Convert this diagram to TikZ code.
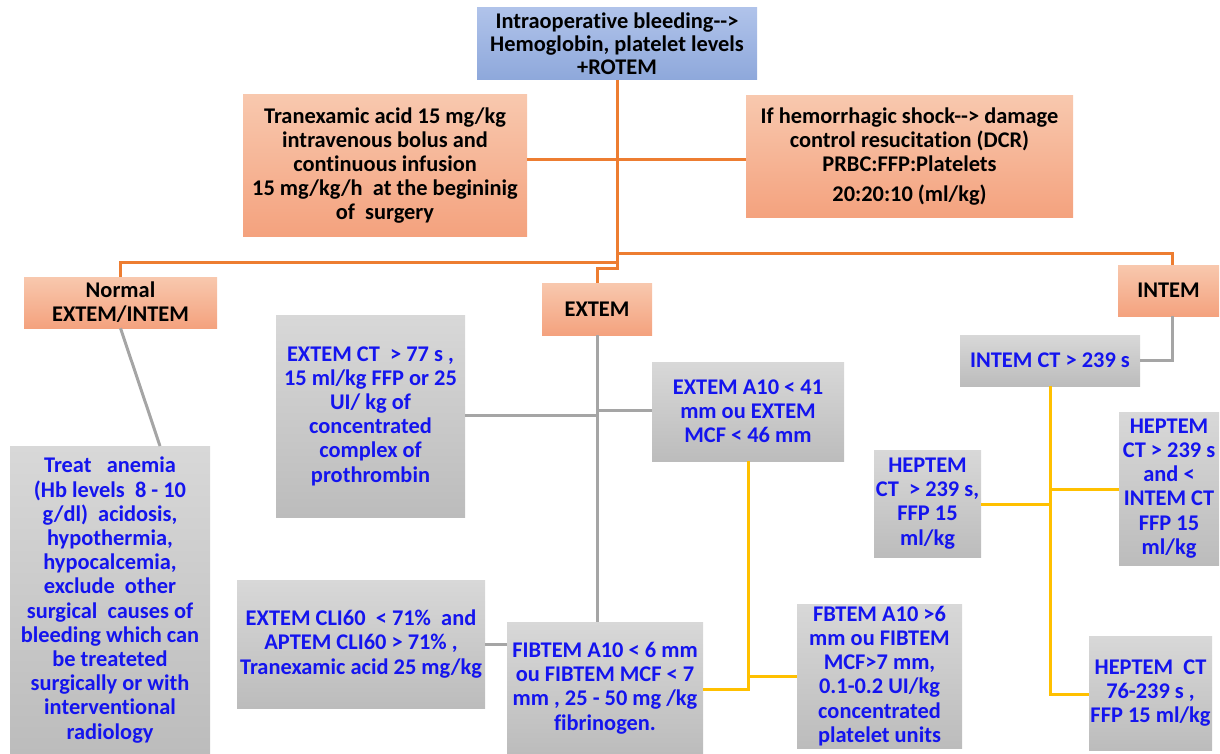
\documentclass[tikz,border=0pt]{standalone}
\usepackage{fontspec}
\setmainfont{Carlito}[Ligatures={NoCommon}]
\definecolor{ora}{HTML}{ED7D31}
\definecolor{gline}{HTML}{A5A5A5}
\definecolor{yel}{HTML}{FFC000}
\definecolor{btxt}{HTML}{1414EE}
\definecolor{bluetop}{HTML}{B0C3EA}
\definecolor{bluebot}{HTML}{8EA8DB}
\definecolor{saltop}{HTML}{F8C8AE}
\definecolor{salbot}{HTML}{F4A27E}
\definecolor{graytop}{HTML}{D8D8D8}
\definecolor{graybot}{HTML}{BCBCBC}
\tikzset{
  base/.style={draw=none, inner sep=0pt, align=center, font=\fontsize{22.4}{24.2}\selectfont\bfseries},
  bluebox/.style={base, top color=bluetop, bottom color=bluebot, text=black},
  salbox/.style={base, top color=saltop, bottom color=salbot, text=black},
  graybox/.style={base, top color=graytop, bottom color=graybot, text=btxt},
  oline/.style={draw=ora, line width=3pt},
  gline/.style={draw=gline, line width=3pt},
  yline/.style={draw=yel, line width=3pt},
}
\begin{document}
\begin{tikzpicture}[x=1pt,y=-1pt]
\path[use as bounding box] (0,0) rectangle (1220,754);
% nodes
\node[bluebox, minimum width=280, minimum height=72, font=\fontsize{22.4}{23}\selectfont\bfseries] (top) at (617,44)
  {Intraoperative bleeding-{}-{}>\\Hemoglobin, platelet levels\\+ROTEM};
\node[salbox, minimum width=284, minimum height=141] (tran) at (385,165.5)
  {Tranexamic acid 15 mg/kg\\intravenous bolus and\\continuous infusion\\15 mg/kg/h\ \ at the begininig\\of\ \ surgery};
\node[salbox, minimum width=327, minimum height=121] (hem) at (909.5,156.5)
  {If hemorrhagic shock-{}-{}> damage\\control resucitation (DCR)\\PRBC:FFP:Platelets\\[6pt]20:20:10 (ml/kg)};
\node[salbox, minimum width=193, minimum height=51] (normal) at (120.5,302.5)
  {Normal\\EXTEM/INTEM};
\node[salbox, minimum width=110, minimum height=52] (extem) at (597,309) {EXTEM};
\node[salbox, minimum width=101, minimum height=51] (intem) at (1168.5,290.5) {INTEM};
\node[graybox, minimum width=189, minimum height=202] (extemct) at (370.5,416)
  {EXTEM CT\ \ > 77 s ,\\15 ml/kg FFP or 25\\UI/ kg of\\concentrated\\complex of\\prothrombin};
\node[graybox, minimum width=192, minimum height=99] (a10) at (748,411.5)
  {EXTEM A10 < 41\\mm ou EXTEM\\MCF < 46 mm};
\node[graybox, minimum width=180, minimum height=51] (intemct) at (1050,360.5)
  {INTEM CT > 239 s};
\node[graybox, minimum width=107, minimum height=107] (hepl) at (927.5,503.5)
  {HEPTEM\\CT\ \ > 239 s,\\FFP 15\\ml/kg};
\node[graybox, minimum width=100, minimum height=153] (hepr) at (1169,488.5)
  {HEPTEM\\CT > 239 s\\and <\\INTEM CT\\FFP 15\\ml/kg};
\node[graybox, minimum width=200, minimum height=308] (treat) at (110,600)
  {Treat\ \ \ anemia\\(Hb levels\ \ 8 - 10\\g/dl)\ \ acidosis,\\hypothermia,\\hypocalcemia,\\exclude\ \ other\\surgical\ \ causes of\\bleeding which can\\be treateted\\surgically or with\\interventional\\radiology};
\node[graybox, minimum width=248, minimum height=128] (cli) at (361,644)
  {EXTEM CLI60\ \ < 71\%\ \ and\\APTEM CLI60 > 71\% ,\\Tranexamic acid 25 mg/kg};
\node[graybox, minimum width=196, minimum height=132] (fib) at (605,688)
  {FIBTEM A10 < 6 mm\\ou FIBTEM MCF < 7\\mm , 25 - 50 mg /kg\\fibrinogen.};
\node[graybox, minimum width=165, minimum height=144] (fbtem) at (879.5,676)
  {FBTEM A10 >6\\mm ou FIBTEM\\MCF>7 mm,\\0.1-0.2 UI/kg\\concentrated\\platelet units};
\node[graybox, minimum width=123, minimum height=114] (hep76) at (1150.5,693)
  {HEPTEM\ \ CT\\76-239 s ,\\FFP 15 ml/kg};
% junction coordinates
\coordinate (ja) at (617,160);
\coordinate (jb) at (617,253);
\coordinate (jc) at (617,262);
\coordinate (jd) at (617,268);
\coordinate (ib) at (1172,253);
\coordinate (ga) at (597,415);
\coordinate (gb) at (597,410);
\coordinate (tn) at (160,446);
\coordinate (ya) at (748,689);
\coordinate (yb) at (748,676);
\coordinate (yc) at (1050,694);
\coordinate (yd) at (1050,504);
\coordinate (ye) at (1050,489);
% orange connectors
\draw[oline] (top.south) -- (jd) -- (jd -| extem.north) -- (extem.north);
\draw[oline] (tran.east |- ja) -- (hem.west |- ja);
\draw[oline] (jb) -- (ib) -- (ib |- intem.north);
\draw[oline] (jc) -- (jc -| normal.north) -- (normal.north);
% gray connectors
\draw[gline] (normal.south) -- (tn);
\draw[gline] (extem.south) -- (extem.south |- fib.north);
\draw[gline] (extemct.east |- ga) -- (ga);
\draw[gline] (gb) -- (a10.west |- gb);
\draw[gline] (cli.east) -- (cli.east -| fib.west);
\draw[gline] (ib |- intem.south) -- (ib |- intemct.east) -- (intemct.east);
% yellow connectors
\draw[yline] (a10.south) -- (ya) -- (ya -| fib.east);
\draw[yline] (yb) -- (yb -| fbtem.west);
\draw[yline] (intemct.south) -- (yc) -- (yc -| hep76.west);
\draw[yline] (hepl.east |- yd) -- (yd);
\draw[yline] (ye) -- (ye -| hepr.west);
\end{tikzpicture}
\end{document}
